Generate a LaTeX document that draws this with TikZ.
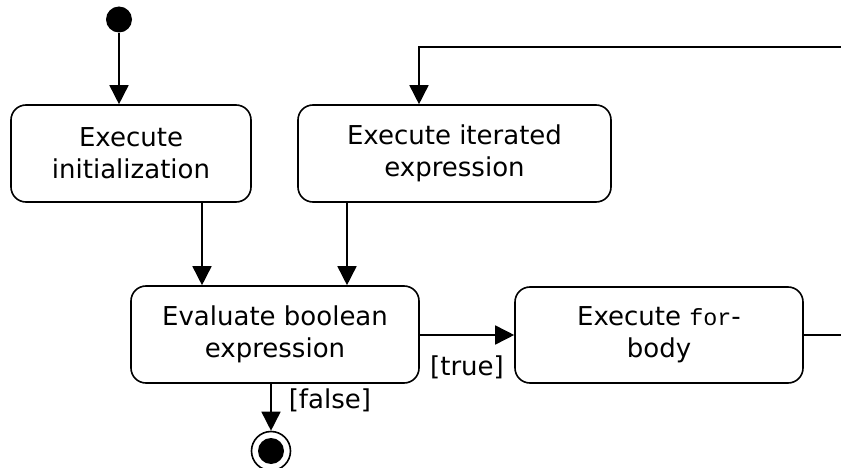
\documentclass[tikz,border=0pt]{standalone}
\usepackage{fontspec}
\setmainfont{DejaVu Sans}
\setmonofont{Liberation Mono}[Scale=0.9]
\usetikzlibrary{arrows.meta}

\begin{document}
\begin{tikzpicture}[x=1pt,y=-1pt,
  line width=1.6pt,
  flow/.style={-{Triangle[length=19pt,width=19pt]}},
  action/.style={draw, rounded corners=15pt, align=center, minimum height=97pt,
    inner sep=0pt, font=\fontsize{26}{32}\selectfont},
  guard/.style={inner sep=0pt, font=\fontsize{26}{32}\selectfont},
  startdot/.style={circle, fill, minimum size=26pt, inner sep=0pt},
  endring/.style={circle, draw, minimum size=39pt, inner sep=0pt}]
\useasboundingbox (0,0) rectangle (841,468);
\clip (0,0) rectangle (841,468);

% states
\node[startdot] (start) at (119,19.5) {};
\node[action, minimum width=240pt] (init) at (131,153.5) {Execute\\initialization};
\node[action, minimum width=313pt] (iter) at (454.5,153.5) {Execute iterated\\expression};
\node[action, minimum width=288pt] (eval) at (275,334.5) {Evaluate boolean\\expression};
\node[action, minimum width=288pt, minimum height=96pt] (body) at (659,335) {Execute \texttt{for}-\\body};
\node[endring] (final) at (271,451) {};
\node[startdot] (finaldot) at (final) {};

% entry points on the box borders
\coordinate (initout) at ([xshift=71pt]init.south);
\coordinate (iterout) at ([xshift=-107.5pt]iter.south);
\coordinate (loopin) at ([xshift=-35.5pt]iter.north);

% transitions
\draw[flow] (start) -- (start |- init.north);
\draw[flow] (initout) -- (initout |- eval.north);
\draw[flow] (iterout) -- (iterout |- eval.north);
\draw[flow] (eval.east |- body) -- node[guard, yshift=-32pt] {[true]} (body.west);
\draw[flow] (eval.south -| final) -- node[guard, pos=0.36, anchor=west, xshift=17pt] {[false]} (final);
\draw[flow] (body.east) -- (880,335) |- (loopin |- 0,47) -- (loopin);
\end{tikzpicture}
\end{document}
